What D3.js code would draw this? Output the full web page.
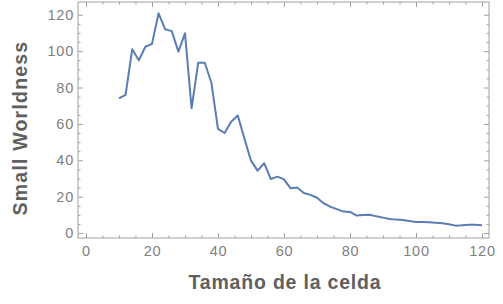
<!DOCTYPE html>
<html>
<head>
<meta charset="utf-8">
<script src="https://cdn.jsdelivr.net/npm/d3@7"></script>
<style>
  body { margin: 0; background: #fff; }
  svg { display: block; font-family: "Liberation Sans", Arial, sans-serif; }
</style>
</head>
<body>
<div id="container"></div>
<script>
const cellSizes = [10, 12, 14, 16, 18, 20, 22, 24, 26, 28, 30, 32, 34, 36, 38, 40, 42, 44, 46, 48,
  50, 52, 54, 56, 58, 60, 62, 64, 66, 68, 70, 72, 74, 76, 78, 80, 82, 84, 86, 88,
  90, 92, 94, 96, 98, 100, 102, 104, 106, 108, 110, 112, 114, 116, 118, 120];
const worldness = [74, 76, 101, 95, 102.4, 104, 120.8, 112, 111, 99.7, 109.8, 68.6, 93.6, 93.6, 82.6, 57.3, 55, 61.2, 64.6, 52,
  39.8, 34.3, 38.4, 29.7, 31, 29.5, 24.6, 25, 22, 21, 19.4, 16.4, 14.5, 13.2, 11.8, 11.6, 9.6, 9.9, 10.1, 9.2,
  8.5, 7.7, 7.4, 7.2, 6.6, 6.1, 6.1, 5.9, 5.7, 5.4, 4.8, 4.1, 4.3, 4.6, 4.6, 4.3];
const xTicks = [0, 20, 40, 60, 80, 100, 120];
const yTicks = [0, 20, 40, 60, 80, 100, 120];
const minorTicks = d3.range(0, 125, 5);

const width = 503;
const height = 304;
const frameLeft = 78, frameRight = 489, frameTop = 2, frameBottom = 238;

const x = d3.scaleLinear().domain([-2.42, 122.12]).range([frameLeft, frameRight]);
const y = d3.scaleLinear().domain([-2.7, 127]).range([frameBottom, frameTop]);

const svg = d3.create("svg").attr("width", width).attr("height", height);

const frameColor = "#a0a0a0";
const labelColor = "#808080";

// minor ticks on all four sides, labels only bottom and left
const minorX = minorTicks.filter((d) => xTicks.indexOf(d) < 0);
const minorY = minorTicks.filter((d) => yTicks.indexOf(d) < 0);

const axes = [
  { axis: d3.axisBottom(x), t: `translate(0,${frameBottom})`, major: xTicks, minor: minorX, labels: true, pad: 8 },
  { axis: d3.axisTop(x), t: `translate(0,${frameTop})`, major: xTicks, minor: minorX, labels: false, pad: 4 },
  { axis: d3.axisLeft(y), t: `translate(${frameLeft},0)`, major: yTicks, minor: minorY, labels: true, pad: 4 },
  { axis: d3.axisRight(y), t: `translate(${frameRight},0)`, major: yTicks, minor: minorY, labels: false, pad: 4 },
];

axes.forEach((a) => {
  svg.append("g")
    .attr("transform", a.t)
    .call(a.axis.tickValues(a.minor).tickSizeInner(-2.5).tickSizeOuter(0).tickFormat(""))
    .call((g) => g.select(".domain").remove())
    .call((g) => g.selectAll("line").attr("stroke", frameColor));

  const g = svg.append("g")
    .attr("transform", a.t)
    .call(a.axis.tickValues(a.major).tickSizeInner(-5).tickSizeOuter(0)
      .tickPadding(a.pad)
      .tickFormat(a.labels ? (d) => d : ""))
    .call((g) => g.select(".domain").remove());
  g.selectAll("line").attr("stroke", frameColor);
  g.selectAll("text")
    .attr("fill", labelColor)
    .attr("font-size", "14.5px")
    .attr("letter-spacing", "0.8px");
});

svg.append("rect")
  .attr("x", frameLeft)
  .attr("y", frameTop)
  .attr("width", frameRight - frameLeft)
  .attr("height", frameBottom - frameTop)
  .attr("fill", "none")
  .attr("stroke", frameColor)
  .attr("stroke-width", 1);

const line = d3.line()
  .x((d, i) => x(cellSizes[i]))
  .y((d) => y(d));

svg.append("path")
  .datum(worldness)
  .attr("d", line)
  .attr("fill", "none")
  .attr("stroke", "#5a7db5")
  .attr("stroke-width", 2)
  .attr("stroke-linejoin", "round");

svg.append("text")
  .attr("x", 285)
  .attr("y", 288.5)
  .attr("text-anchor", "middle")
  .attr("font-size", "19.5px")
  .attr("font-weight", "bold")
  .attr("letter-spacing", "0.8px")
  .attr("fill", "#5f5f5f")
  .text("Tamaño de la celda");

svg.append("text")
  .attr("transform", "translate(27,128) rotate(-90)")
  .attr("text-anchor", "middle")
  .attr("font-size", "19.5px")
  .attr("font-weight", "bold")
  .attr("letter-spacing", "1.2px")
  .attr("fill", "#5f5f5f")
  .text("Small Worldness");

d3.select("#container").append(() => svg.node());
</script>
</body>
</html>
